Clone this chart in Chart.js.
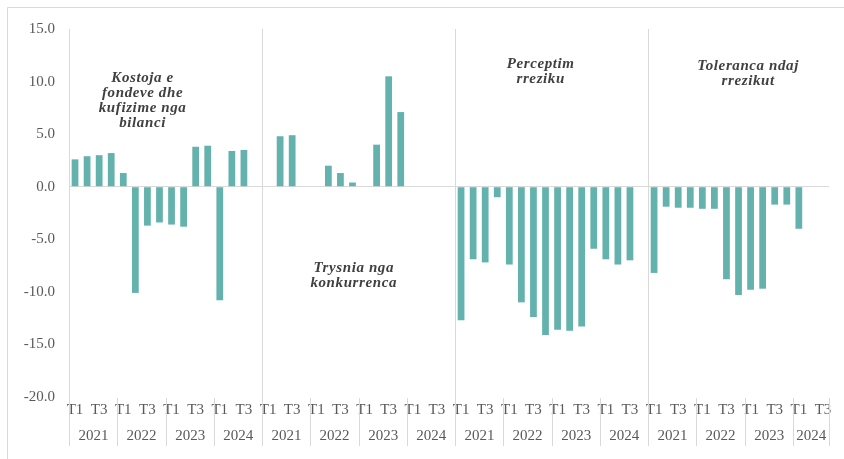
<!DOCTYPE html>
<html>
<head>
<meta charset="utf-8">
<script src="https://cdn.jsdelivr.net/npm/chart.js@4.4.1/dist/chart.umd.min.js"></script>
<style>
  html, body { margin: 0; padding: 0; background: #fff; }
</style>
</head>
<body>
<canvas id="myBarChart" width="844" height="459"></canvas>
<script>
const years = ['2021', '2022', '2023', '2024'];
const quarters = ['T1', 'T2', 'T3', 'T4'];

// vlerat sipas tremujorit, 2021 T1 -> 2024 T4
const kostoja = [2.6, 2.9, 3.0, 3.2, 1.3, -10.1, -3.7, -3.4, -3.6, -3.8, 3.8, 3.9, -10.8, 3.4, 3.5, null];
const trysnia = [null, 4.8, 4.9, null, null, 2.0, 1.3, 0.4, null, 4.0, 10.5, 7.1, null, null, null, null];
const perceptim = [-12.7, -6.9, -7.2, -1.0, -7.4, -11.0, -12.4, -14.1, -13.6, -13.7, -13.3, -5.9, -6.9, -7.4, -7.0, null];
const toleranca = [-8.2, -1.9, -2.0, -2.0, -2.1, -2.1, -8.8, -10.3, -9.8, -9.7, -1.7, -1.7, -4.0, null, null];

const groupNames = [
    ['Kostoja e', 'fondeve dhe', 'kufizime nga', 'bilanci'],
    ['Trysnia nga', 'konkurrenca'],
    ['Perceptim', 'rreziku'],
    ['Toleranca ndaj', 'rrezikut']
];

const groups = [kostoja, trysnia, perceptim, toleranca];

// etiketat e kategorive
const labels = [];
groups.forEach(g => g.forEach((v, i) => labels.push(quarters[i % 4])));
const values = [].concat(...groups);

const serif = '"Liberation Serif", "Times New Roman", serif';
const grey = '#595959';
const lineGrey = '#d9d9d9';

// ku vendoset teksti i cdo grupi (indeksi i kategorise, vlera)
const namePos = [[5.6, 10.35], [23.1, -7.7], [38.6, 11.65], [55.8, 11.5]];

const separators = {
    id: 'separators',
    afterDraw(chart) {
        const ctx = chart.ctx;
        const x = chart.scales.x;
        const y = chart.scales.y;
        const area = chart.chartArea;
        const half = (x.getPixelForValue(1) - x.getPixelForValue(0)) / 2;
        const labelBottom = 446;

        ctx.save();
        ctx.strokeStyle = lineGrey;
        ctx.lineWidth = 1;

        // korniza
        ctx.beginPath();
        ctx.moveTo(7.5, 459);
        ctx.lineTo(7.5, 7.5);
        ctx.lineTo(844, 7.5);
        ctx.stroke();

        ctx.font = '15px ' + serif;
        ctx.fillStyle = grey;
        ctx.textAlign = 'center';
        ctx.textBaseline = 'middle';

        let start = 0;
        groups.forEach((g, gi) => {
            for (let yi = 0; yi * 4 < g.length; yi++) {
                const a = start + yi * 4;
                const b = Math.min(start + g.length, a + 4) - 1;
                const left = Math.round(x.getPixelForValue(a) - half) + 0.5;
                const right = x.getPixelForValue(b) + half;
                const top = yi === 0 ? area.top : area.bottom + 1;
                ctx.beginPath();
                ctx.moveTo(left, top);
                ctx.lineTo(left, labelBottom);
                ctx.stroke();
                ctx.fillText(years[yi], (left + right) / 2, 436);
            }
            start += g.length;
        });
        const end = Math.round(x.getPixelForValue(start - 1) + half) + 0.5;
        ctx.beginPath();
        ctx.moveTo(end, area.bottom + 1);
        ctx.lineTo(end, labelBottom);
        ctx.stroke();

        // emrat e grupeve
        ctx.font = 'italic bold 15px ' + serif;
        ctx.letterSpacing = '0.6px';
        ctx.fillStyle = '#404040';
        groupNames.forEach((lines, gi) => {
            const px = x.getPixelForValue(namePos[gi][0]);
            const py = y.getPixelForValue(namePos[gi][1]);
            lines.forEach((t, li) => ctx.fillText(t, px, py + li * 15.2));
        });
        ctx.restore();
    }
};

new Chart(document.getElementById('myBarChart'), {
    type: 'bar',
    data: {
        labels: labels,
        datasets: [{
            data: values,
            backgroundColor: '#64b2ad',
            borderWidth: 0,
            categoryPercentage: 1,
            barPercentage: 0.56
        }]
    },
    options: {
        responsive: false,
        animation: false,
        devicePixelRatio: 1,
        layout: { padding: { left: 7, top: 29, right: 15, bottom: 0 } },
        plugins: { legend: { display: false }, tooltip: { enabled: false } },
        scales: {
            x: {
                grid: { display: false, drawTicks: false },
                border: { display: false },
                ticks: {
                    autoSkip: false,
                    maxRotation: 0,
                    padding: 4,
                    color: grey,
                    font: { family: serif, size: 15 },
                    callback: function (v) {
                        const l = this.getLabelForValue(v);
                        return (l === 'T1' || l === 'T3') ? l : '';
                    }
                },
                afterFit: s => { s.height = 62; }
            },
            y: {
                min: -20,
                max: 15,
                grid: {
                    drawTicks: false,
                    color: c => c.tick.value === 0 ? lineGrey : 'transparent'
                },
                border: { display: false },
                ticks: {
                    stepSize: 5,
                    padding: 14,
                    color: grey,
                    font: { family: serif, size: 15 },
                    callback: v => v.toFixed(1)
                },
                afterFit: s => { s.width = 62; }
            }
        }
    },
    plugins: [separators]
});
</script>
</body>
</html>
